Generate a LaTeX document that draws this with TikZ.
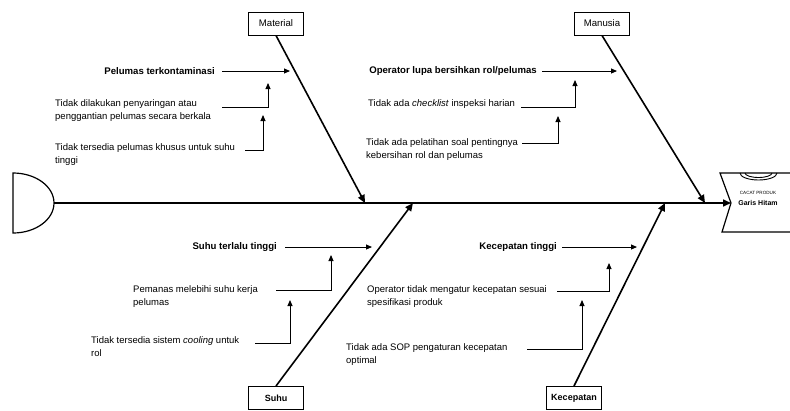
\documentclass[tikz,border=0pt]{standalone}
\usepackage{fontspec}
\setmainfont{Liberation Sans}
\usetikzlibrary{arrows.meta}
\begin{document}
\begin{tikzpicture}[x=1pt,y=-1pt,
  cat/.style={draw, line width=1pt, minimum width=55pt, minimum height=23pt, inner sep=0pt, font=\fontsize{9.6}{11}\selectfont},
  bone/.style={line width=1.6pt, -{Triangle[length=8pt,width=7pt]}},
  sub/.style={line width=0.9pt, -{Triangle[length=6pt,width=5pt]}},
  txt/.style={inner sep=0pt, align=left, anchor=north west, font=\fontsize{9.5}{13}\selectfont},
  btxt/.style={inner sep=0pt, anchor=east, font=\bfseries\fontsize{9.6}{13}\selectfont},
  shp/.style={line width=1.2pt}]
\useasboundingbox (0,0) rectangle (790,410);

% tail and head
\draw[shp] (13,173) arc[start angle=-90, end angle=90, x radius=41, y radius=30] -- cycle;
\coordinate (tail) at (54,203);
\draw[shp] (795,173) -- (720,173) -- (731,203) -- (722,232) -- (795,232);
\draw[line width=0.9pt] (740,173) arc[start angle=180, end angle=0, x radius=18.5, y radius=7];
\draw[line width=0.9pt] (745,173) arc[start angle=180, end angle=0, x radius=13.5, y radius=4.5];
\coordinate (headtip) at (731,203);
\node[inner sep=0pt, font=\fontsize{4.6}{5}\selectfont] (hd1) at (758,193) {CACAT PRODUK};
\node[inner sep=0pt, font=\bfseries\fontsize{7}{8}\selectfont] (hd2) at (758,203) {Garis Hitam};

% spine
\draw[bone] (tail) -- (headtip);

% category boxes
\node[cat] (mat) at (276,23.5) {Material};
\node[cat] (man) at (602,23.5) {Manusia};
\node[cat, font=\bfseries\fontsize{9}{10}\selectfont] (suh) at (276,398) {Suhu};
\node[cat, font=\bfseries\fontsize{9}{10}\selectfont] (kec) at (574,398) {Kecepatan};

\coordinate (smat) at (365,203);
\coordinate (sman) at (705,203);
\coordinate (ssuh) at (413,203);
\coordinate (skec) at (665,203);
\draw[bone] (mat.south) -- (smat);
\draw[bone] (man.south) -- (sman);
\draw[bone] (suh.north) -- (ssuh);
\draw[bone] (kec.north) -- (skec);

% Material causes
\node[btxt] (m1) at (215,71) {Pelumas terkontaminasi};
\node[txt] (m2) at (55,99.5) {Tidak dilakukan penyaringan atau\\penggantian pelumas secara berkala};
\node[txt] (m3) at (55,143.5) {Tidak tersedia pelumas khusus untuk suhu\\tinggi};
\coordinate (m1s) at (222,71);   \coordinate (m1t) at (290,71);
\coordinate (m2s) at (222,107);  \coordinate (m2t) at (268,83);
\coordinate (m3s) at (245,150);  \coordinate (m3t) at (263,115);
\draw[sub] (m1s) -- (m1t);
\draw[sub] (m2s) -| (m2t);
\draw[sub] (m3s) -| (m3t);

% Manusia causes
\node[btxt] (h1) at (537,71) {Operator lupa bersihkan rol/pelumas};
\node[txt] (h2) at (368,99.5) {Tidak ada \textit{checklist} inspeksi harian};
\node[txt] (h3) at (366,138.5) {Tidak ada pelatihan soal pentingnya\\kebersihan rol dan pelumas};
\coordinate (h1s) at (542,71);   \coordinate (h1t) at (617,71);
\coordinate (h2s) at (521,107);  \coordinate (h2t) at (575,80);
\coordinate (h3s) at (522,143);  \coordinate (h3t) at (558,116);
\draw[sub] (h1s) -- (h1t);
\draw[sub] (h2s) -| (h2t);
\draw[sub] (h3s) -| (h3t);

% Suhu causes
\node[btxt] (s1) at (277,247) {Suhu terlalu tinggi};
\node[txt] (s2) at (133,285.5) {Pemanas melebihi suhu kerja\\pelumas};
\node[txt] (s3) at (91,336.5) {Tidak tersedia sistem \textit{cooling} untuk\\rol};
\coordinate (s1s) at (285,247);  \coordinate (s1t) at (372,247);
\coordinate (s2s) at (276,290);  \coordinate (s2t) at (331,255);
\coordinate (s3s) at (255,343);  \coordinate (s3t) at (290,300);
\draw[sub] (s1s) -- (s1t);
\draw[sub] (s2s) -| (s2t);
\draw[sub] (s3s) -| (s3t);

% Kecepatan causes
\node[btxt] (k1) at (557,247) {Kecepatan tinggi};
\node[txt] (k2) at (367,285.5) {Operator tidak mengatur kecepatan sesuai\\spesifikasi produk};
\node[txt] (k3) at (346,343.5) {Tidak ada SOP pengaturan kecepatan\\optimal};
\coordinate (k1s) at (562,247);  \coordinate (k1t) at (637,247);
\coordinate (k2s) at (557,291);  \coordinate (k2t) at (609,263);
\coordinate (k3s) at (527,349);  \coordinate (k3t) at (582,300);
\draw[sub] (k1s) -- (k1t);
\draw[sub] (k2s) -| (k2t);
\draw[sub] (k3s) -| (k3t);
\end{tikzpicture}
\end{document}
